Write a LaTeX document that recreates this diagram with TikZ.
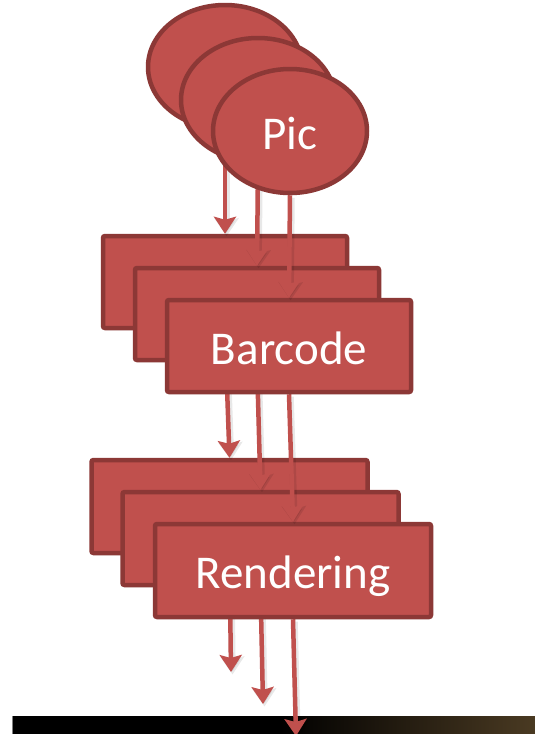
\documentclass[tikz,border=0pt]{standalone}
\usepackage{fontspec}
\setmainfont{Carlito}
\usetikzlibrary{arrows.meta,shapes.geometric,shadows}

\definecolor{boxfill}{HTML}{C0504D}
\definecolor{boxline}{HTML}{8C3836}
\definecolor{bandbrown}{RGB}{74,58,34}

% back-to-front stacking of the pipeline pieces
\pgfdeclarelayer{strip}
\pgfdeclarelayer{outflow}
\pgfdeclarelayer{rendering}
\pgfdeclarelayer{midflow}
\pgfdeclarelayer{barcode}
\pgfdeclarelayer{inflow}
\pgfsetlayers{strip,outflow,rendering,midflow,barcode,inflow,main}

\tikzset{
  stage/.style={draw=boxline, fill=boxfill, line width=4.5pt, text=white,
    font=\fontsize{47}{47}\selectfont, inner sep=0pt,
    text height=36pt, text depth=0pt,
    drop shadow={opacity=0.18, shadow xshift=1pt, shadow yshift=-2pt}},
  blob/.style={stage, ellipse, minimum width=154pt, minimum height=124pt},
  card/.style={stage, rectangle, rounded corners=2pt},
  barcodecard/.style={card, minimum width=244pt, minimum height=92pt},
  rendercard/.style={card, minimum width=276pt, minimum height=93pt},
  flow/.style={draw=boxfill, fill=boxfill, line width=4.5pt,
    -{Stealth[length=17pt, width=22pt, inset=3pt]}},
  flowhaze/.style={draw=black, fill=black, line width=#1, opacity=0.09,
    -{Stealth[length=18pt, width=24pt, inset=3pt]}},
}

% one arrow with its soft shadow
\newcommand\flowarrow[2]{%
  \draw[flowhaze=6.5pt] ([shift={(1.5,2.5)}]#1) -- ([shift={(1.5,2.5)}]#2);
  \draw[flow] (#1) -- (#2);}

\begin{document}
\begin{tikzpicture}[x=1pt, y=-1pt]
  \useasboundingbox (0,0) rectangle (535,734);

  % dark strip along the bottom edge
  \begin{pgfonlayer}{strip}
    \fill[black] (12,716) rectangle (280,734);
    \shade[left color=black, right color=bandbrown] (280,716) rectangle (535,734);
    \draw[gray, line width=0.8pt] (12.5,716) -- (12.5,734);
  \end{pgfonlayer}

  % source pictures (three stacked ellipses)
  \node[blob] (p1) at (225,67) {};
  \node[blob] (p2) at (258,100) {};
  \node[blob] (p3) at (290,131) {Pic};

  % barcode stage (three stacked cards)
  \begin{pgfonlayer}{barcode}
    \node[barcodecard] (b1) at (225,282) {};
    \node[barcodecard] (b2) at (257,314) {};
    \node[barcodecard] (b3) at (289,346) {Barcode};
  \end{pgfonlayer}

  % rendering stage (three stacked cards)
  \begin{pgfonlayer}{rendering}
    \node[rendercard] (r1) at (229.5,506.5) {};
    \node[rendercard] (r2) at (260.5,538.5) {};
    \node[rendercard] (r3) at (293,570.5) {Rendering};
  \end{pgfonlayer}

  % loose ends of the final outputs
  \coordinate (o1) at (231,672);
  \coordinate (o2) at (263,704);
  \coordinate (o3) at (296,736);

  \begin{pgfonlayer}{inflow}
    \flowarrow{p1.south}{b1.north}
    \flowarrow{p2.south}{b2.north}
    \flowarrow{p3.south}{b3.north}
  \end{pgfonlayer}

  \begin{pgfonlayer}{midflow}
    \flowarrow{b1.south}{r1.north}
    \flowarrow{b2.south}{r2.north}
    \flowarrow{b3.south}{r3.north}
  \end{pgfonlayer}

  \begin{pgfonlayer}{outflow}
    \flowarrow{r1.south}{o1}
    \flowarrow{r2.south}{o2}
    \flowarrow{r3.south}{o3}
  \end{pgfonlayer}
\end{tikzpicture}
\end{document}
